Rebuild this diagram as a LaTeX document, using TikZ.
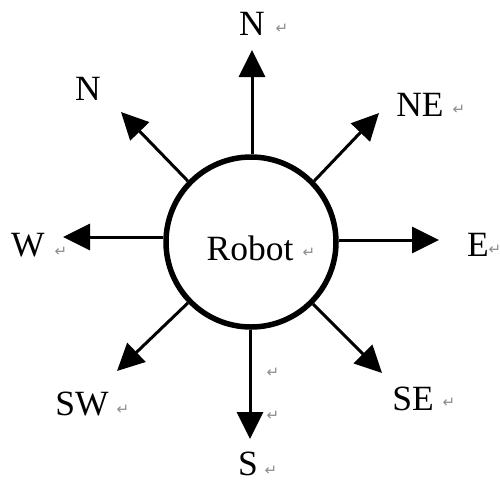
\documentclass[tikz,border=0pt]{standalone}
\usepackage{fontspec}
\setmainfont{Liberation Serif}
\newfontfamily\symfont{DejaVu Sans}
\usetikzlibrary{arrows.meta}
\begin{document}
\begin{tikzpicture}[x=1pt,y=-1pt,
  lbl/.style={font=\fontsize{35.5}{40}\selectfont, inner sep=0pt},
  pmark/.style={font=\symfont\fontsize{15}{17}\selectfont, text=black!45, inner sep=0pt},
  dirarrow/.style={line width=3pt, -{Triangle[length=27pt,width=26pt]}}]
\useasboundingbox (0,0) rectangle (500,483);
\node[circle, draw, line width=5.5pt, minimum size=170pt, inner sep=0pt] (robot) at (251,242) {};
\node[lbl] (robotlbl) at (250,248) {Robot};
% arrow tips
\coordinate (tN) at (252,50);
\coordinate (tNE) at (379,113);
\coordinate (tE) at (439,240);
\coordinate (tSE) at (382,373);
\coordinate (tS) at (250,439);
\coordinate (tSW) at (117,371);
\coordinate (tW) at (63,237);
\coordinate (tNW) at (121,112);
\draw[dirarrow] (robot.north -| tN) -- (tN);
\draw[dirarrow] (robot.44) -- (tNE);
\draw[dirarrow] (robot.east |- tE) -- (tE);
\draw[dirarrow] (robot.-45) -- (tSE);
\draw[dirarrow] (robot.south -| tS) -- (tS);
\draw[dirarrow] (robot.-136) -- (tSW);
\draw[dirarrow] (robot.west |- tW) -- (tW);
\draw[dirarrow] (robot.136) -- (tNW);
% labels
\node[lbl] (lN) at (252,24) {N};
\node[lbl] (lNW) at (88,89) {N};
\node[lbl] (lNE) at (420,105) {NE};
\node[lbl] (lE) at (478,245) {E};
\node[lbl] (lSE) at (413,399) {SE};
\node[lbl] (lS) at (248,464) {S};
\node[lbl] (lSW) at (82,404) {SW};
\node[lbl] (lW) at (28,245) {W};
% paragraph marks
\node[pmark] (mN) at (282,29) {↵};
\node[pmark] (mNE) at (459,110) {↵};
\node[pmark] (mE) at (495,250) {↵};
\node[pmark] (mSE) at (449,403) {↵};
\node[pmark] (mS1) at (273,373) {↵};
\node[pmark] (mS2) at (273,416) {↵};
\node[pmark] (mS) at (271,471) {↵};
\node[pmark] (mSW) at (123,410) {↵};
\node[pmark] (mW) at (61,252) {↵};
\node[pmark] (mR) at (309,253) {↵};
\end{tikzpicture}
\end{document}
